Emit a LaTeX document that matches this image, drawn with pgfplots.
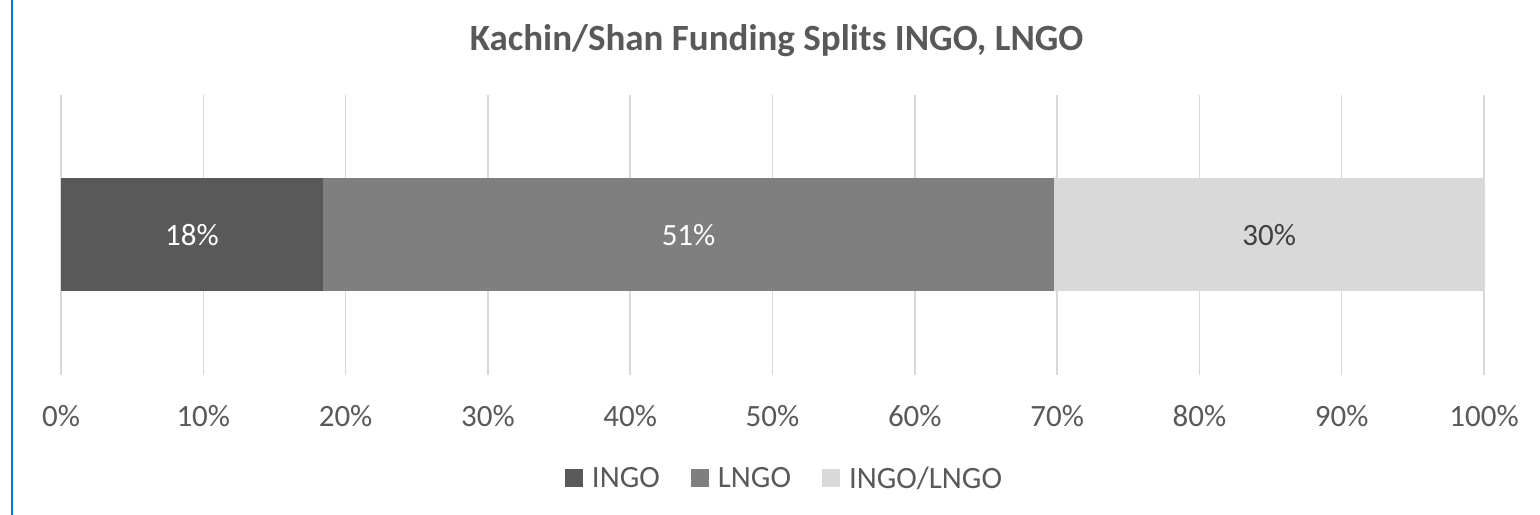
\documentclass[border=0pt]{standalone}
\usepackage{pgfplots}
\pgfplotsset{compat=1.18}
\usepackage{fontspec}
\setmainfont{Carlito}
\definecolor{txt}{HTML}{595959}
\definecolor{cINGO}{HTML}{595959}
\definecolor{cLNGO}{HTML}{7F7F7F}
\definecolor{cBOTH}{HTML}{D9D9D9}
\definecolor{gridc}{HTML}{D9D9D9}
\definecolor{framec}{HTML}{0078D4}
\begin{document}
\begin{tikzpicture}[x=1bp,y=1bp]
\path[use as bounding box] (0,0) rectangle (1540,515);
\draw[framec, line width=2.5bp] (12,0) -- (12,515);
\begin{axis}[
  at={(61bp,140bp)}, anchor=south west,
  scale only axis, width=1423bp, height=280bp,
  xbar stacked, bar width=113bp,
  xmin=0, xmax=100, ymin=-1, ymax=1,
  axis line style={draw=none},
  ytick=\empty,
  xtick={0,10,...,100},
  xticklabels={0\%,10\%,20\%,30\%,40\%,50\%,60\%,70\%,80\%,90\%,100\%},
  major tick length=0pt,
  xmajorgrids, grid style={draw=gridc, line width=1.5bp},
  xticklabel style={anchor=base, yshift=-52bp, text=txt, font=\fontsize{31bp}{37bp}\selectfont},
  title={\textbf{Kachin/Shan Funding Splits INGO, LNGO}},
  title style={at={(axis description cs:0.5,1)}, anchor=base, xshift=4bp, yshift=39bp, text=txt, font=\fontsize{37bp}{44bp}\selectfont},
  legend columns=-1,
  legend style={draw=none, at={(axis description cs:0.5,0)}, anchor=center, xshift=12.5bp, yshift=-103bp,
    font=\fontsize{31bp}{37bp}\selectfont, text=txt,
    /tikz/every odd column/.append style={column sep=6bp},
    /tikz/every even column/.append style={column sep=28bp},
    nodes={inner sep=3bp}},
  legend image code/.code={\fill[#1, draw=none] (0bp,-9bp) rectangle (18bp,9bp);},
]
\addplot[fill=cINGO, draw=none] coordinates {(18.4,0)};
\addplot[fill=cLNGO, draw=none] coordinates {(51.4,0)};
\addplot[fill=cBOTH, draw=none] coordinates {(30.2,0)};
\legend{INGO, LNGO, INGO/LNGO}
\end{axis}
% data labels, in an overlaid axis of the same size
\begin{axis}[
  at={(61bp,140bp)}, anchor=south west,
  scale only axis, width=1423bp, height=280bp,
  xmin=0, xmax=100, ymin=-1, ymax=1,
  hide axis,
  point meta=explicit symbolic,
  nodes near coords,
  every node near coord/.append style={anchor=center, font=\fontsize{31bp}{37bp}\selectfont},
]
\addplot[draw=none, mark=none, nodes near coords, every node near coord/.append style={text=white}]
  coordinates {(9.2,0) [18\%] (44.1,0) [51\%]};
\addplot[draw=none, mark=none, nodes near coords, every node near coord/.append style={text=black!75}]
  coordinates {(84.9,0) [30\%]};
\end{axis}
\end{tikzpicture}
\end{document}
